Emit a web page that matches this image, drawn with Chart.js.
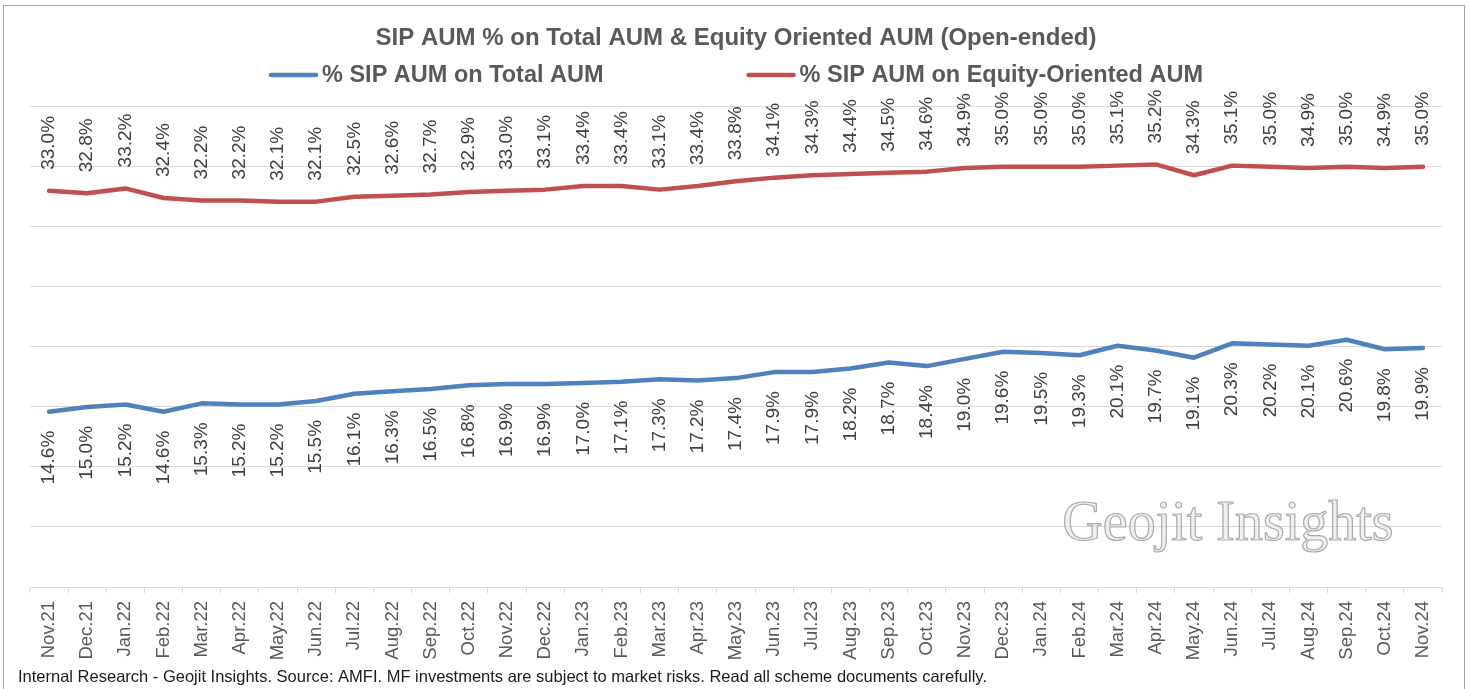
<!DOCTYPE html>
<html>
<head>
<meta charset="utf-8">
<script src="https://cdn.jsdelivr.net/npm/chart.js@4.4.1/dist/chart.umd.min.js"></script>
<style>
  html, body { margin: 0; padding: 0; background: #fff; }
  #wrap { width: 1468px; height: 689px; }
</style>
</head>
<body>
<div id="wrap"><canvas id="sip-chart" width="1468" height="689"></canvas></div>
<script>
// ── Data ───────────────────────────────────────────────────────────
const months = [
  'Nov.21', 'Dec.21', 'Jan.22', 'Feb.22', 'Mar.22', 'Apr.22', 'May.22', 'Jun.22',
  'Jul.22', 'Aug.22', 'Sep.22', 'Oct.22', 'Nov.22', 'Dec.22', 'Jan.23', 'Feb.23',
  'Mar.23', 'Apr.23', 'May.23', 'Jun.23', 'Jul.23', 'Aug.23', 'Sep.23', 'Oct.23',
  'Nov.23', 'Dec.23', 'Jan.24', 'Feb.24', 'Mar.24', 'Apr.24', 'May.24', 'Jun.24',
  'Jul.24', 'Aug.24', 'Sep.24', 'Oct.24', 'Nov.24'
];

// % SIP AUM on Total AUM
const sipOnTotal = [
  14.6, 15.0, 15.2, 14.6, 15.3, 15.2, 15.2, 15.5, 16.1, 16.3, 16.5, 16.8, 16.9,
  16.9, 17.0, 17.1, 17.3, 17.2, 17.4, 17.9, 17.9, 18.2, 18.7, 18.4, 19.0, 19.6,
  19.5, 19.3, 20.1, 19.7, 19.1, 20.3, 20.2, 20.1, 20.6, 19.8, 19.9
];

// % SIP AUM on Equity-Oriented AUM
const sipOnEquity = [
  33.0, 32.8, 33.2, 32.4, 32.2, 32.2, 32.1, 32.1, 32.5, 32.6, 32.7, 32.9, 33.0,
  33.1, 33.4, 33.4, 33.1, 33.4, 33.8, 34.1, 34.3, 34.4, 34.5, 34.6, 34.9, 35.0,
  35.0, 35.0, 35.1, 35.2, 34.3, 35.1, 35.0, 34.9, 35.0, 34.9, 35.0
];

const seriesNames = ['% SIP AUM on Total AUM', '% SIP AUM on Equity-Oriented AUM'];
const yRange = [0, 40];
const yStep = 5;

const chartTitle = 'SIP AUM % on Total AUM & Equity Oriented AUM (Open-ended)';
const footNote = 'Internal Research - Geojit Insights. Source: AMFI. MF investments are subject to market risks. Read all scheme documents carefully.';
const watermark = 'Geojit Insights';

// ── Style ──────────────────────────────────────────────────────────
const FONT = '"Liberation Sans", Arial, sans-serif';
const BLUE = '#4F81BD';
const RED = '#C0504D';
const GREY = '#595959';
const GRID = '#d9d9d9';

// ── Plugins ────────────────────────────────────────────────────────
const frame = {
  id: 'frame',
  beforeDraw(chart) {
    const { ctx, width, height } = chart;
    ctx.save();
    ctx.fillStyle = '#fff';
    ctx.fillRect(0, 0, width, height);
    ctx.strokeStyle = '#a6a6a6';
    ctx.lineWidth = 1;
    ctx.strokeRect(3.5, 5.5, width - 7, height + 10);
    ctx.restore();
  },
  beforeDatasetsDraw(chart) {
    // faint outlined watermark, sits behind the lines
    const { ctx } = chart;
    ctx.save();
    ctx.font = '56px "Liberation Serif", serif';
    ctx.textAlign = 'center';
    ctx.textBaseline = 'alphabetic';
    ctx.fillStyle = 'rgba(230,230,230,0.6)';
    ctx.strokeStyle = 'rgba(150,150,150,0.8)';
    ctx.lineWidth = 1.2;
    ctx.fillText(watermark, 1228, 540);
    ctx.strokeText(watermark, 1228, 540);
    ctx.restore();
  },
  afterDraw(chart) {
    const { ctx } = chart;
    ctx.save();

    // legend
    ctx.font = `bold 23.5px ${FONT}`;
    ctx.textBaseline = 'middle';
    const lineLen = 45, gapTxt = 6, gapItem = 145;
    const sets = chart.data.datasets;
    const widths = sets.map(d => lineLen + gapTxt + ctx.measureText(d.label).width);
    const total = widths.reduce((a, b) => a + b, 0) + gapItem * (sets.length - 1);
    let x = 737 - total / 2;
    const y = 75;
    sets.forEach((d, i) => {
      ctx.strokeStyle = d.borderColor;
      ctx.lineWidth = 4.5;
      ctx.lineCap = 'round';
      ctx.beginPath();
      ctx.moveTo(x, y);
      ctx.lineTo(x + lineLen, y);
      ctx.stroke();
      ctx.fillStyle = GREY;
      ctx.textAlign = 'left';
      ctx.fillText(d.label, x + lineLen + gapTxt, y + 1);
      x += widths[i] + gapItem;
    });

    // footnote
    ctx.font = `16.5px ${FONT}`;
    ctx.fillStyle = '#1a1a1a';
    ctx.textBaseline = 'alphabetic';
    ctx.fillText(footNote, 18, 682);
    ctx.restore();
  }
};

const pointLabels = {
  id: 'pointLabels',
  afterDatasetsDraw(chart) {
    const { ctx } = chart;
    ctx.save();
    ctx.font = `19px ${FONT}`;
    ctx.fillStyle = '#404040';
    ctx.textBaseline = 'middle';
    chart.data.datasets.forEach((ds, di) => {
      const above = ds.labelSide === 'above';
      chart.getDatasetMeta(di).data.forEach((pt, i) => {
        ctx.save();
        ctx.translate(pt.x, pt.y + (above ? -21 : 19));
        ctx.rotate(-Math.PI / 2);
        ctx.textAlign = above ? 'left' : 'right';
        ctx.fillText(ds.data[i].toFixed(1) + '%', 0, 0);
        ctx.restore();
      });
    });
    ctx.restore();
  }
};

// ── Chart ──────────────────────────────────────────────────────────
new Chart(document.getElementById('sip-chart'), {
  type: 'line',
  data: {
    labels: months,
    datasets: [
      { label: seriesNames[0], data: sipOnTotal, borderColor: BLUE, labelSide: 'below' },
      { label: seriesNames[1], data: sipOnEquity, borderColor: RED, labelSide: 'above' }
    ]
  },
  options: {
    responsive: false,
    animation: false,
    layout: { padding: { left: 30, right: 26, top: 0, bottom: 0 } },
    elements: {
      point: { radius: 0, hoverRadius: 0 },
      line: { borderWidth: 4.5, tension: 0, borderCapStyle: 'round', borderJoinStyle: 'round', fill: false }
    },
    plugins: {
      legend: { display: false },
      tooltip: { enabled: false },
      title: {
        display: true,
        text: chartTitle,
        color: GREY,
        font: { family: FONT, size: 24, weight: 'bold', lineHeight: 1.2 },
        padding: { top: 24, bottom: 54 }
      }
    },
    scales: {
      x: {
        offset: true,
        afterFit: s => { s.height = 102; },
        grid: { display: true, drawOnChartArea: false, drawTicks: true, tickLength: 6, color: GRID, offset: true },
        border: { color: GRID },
        ticks: { autoSkip: false, minRotation: 90, maxRotation: 90, padding: 8, color: GREY, font: { family: FONT, size: 18.5 } }
      },
      y: {
        min: yRange[0],
        max: yRange[1],
        afterFit: s => { s.width = 0; },
        ticks: { stepSize: yStep, display: false },
        grid: { color: GRID, drawTicks: false },
        border: { display: false }
      }
    }
  },
  plugins: [frame, pointLabels]
});
</script>
</body>
</html>
